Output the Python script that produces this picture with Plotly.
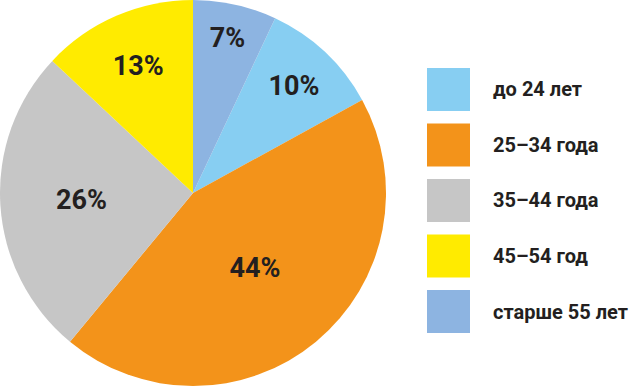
import plotly.graph_objects as go

labels = ["до 24 лет", "25–34 года", "35–44 года", "45–54 год", "старше 55 лет"]
values = [10, 44, 26, 13, 7]
colors = ["#87CEF2", "#F3931A", "#C6C6C6", "#FFEB00", "#8DB4E1"]

FONT = "Roboto, DejaVu Sans Condensed, sans-serif"
TXT = "#231F20"

W, H = 633, 386

fig = go.Figure()
fig.add_trace(go.Pie(
    labels=labels,
    values=values,
    sort=False,
    direction="clockwise",
    rotation=values[-1] / sum(values) * 360,
    marker=dict(colors=colors, line=dict(width=0)),
    texttemplate="<b>%{value}%</b>",
    textposition="inside",
    insidetextorientation="horizontal",
    textfont=dict(family=FONT, size=27, color=TXT),
    domain=dict(x=[0, 386 / W], y=[0, 1]),
    showlegend=False,
    hoverinfo="label+percent",
))

# manual legend with large swatches
sq_x0, sq_w, sq_h = 427, 43, 43
top0, step = 68, 55.5
for i, (lab, col) in enumerate(zip(labels, colors)):
    y0 = top0 + i * step
    fig.add_shape(type="rect", xref="paper", yref="paper",
                  x0=sq_x0 / W, x1=(sq_x0 + sq_w) / W,
                  y0=1 - (y0 + sq_h) / H, y1=1 - y0 / H,
                  fillcolor=col, line=dict(width=0))
    fig.add_annotation(xref="paper", yref="paper",
                       x=491 / W, y=1 - (y0 + sq_h / 2) / H,
                       xanchor="left", yanchor="middle",
                       text=f"<b>{lab}</b>", showarrow=False,
                       font=dict(family=FONT, size=20, color=TXT))

fig.update_layout(
    width=W, height=H,
    margin=dict(l=0, r=0, t=0, b=0),
    paper_bgcolor="white",
    plot_bgcolor="white",
)

fig.write_html("out.html",
               config={"displayModeBar": False},
               post_script="document.body.style.margin='0';document.body.style.overflow='hidden';")
